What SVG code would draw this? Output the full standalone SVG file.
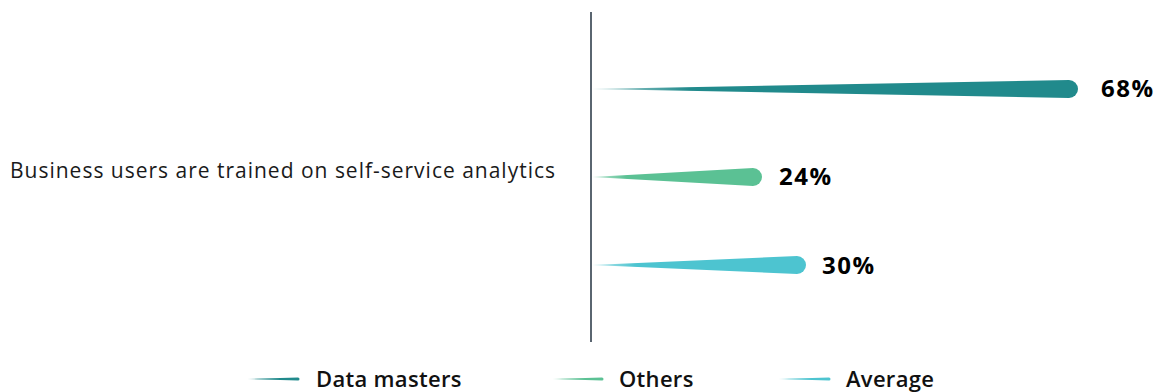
<svg xmlns="http://www.w3.org/2000/svg" width="1162" height="392" viewBox="0 0 1162 392">
<style>
.lbl{font-family:"Open Sans","Noto Sans",sans-serif;font-size:21px;fill:#1a1a1a}
.val{font-family:"Open Sans","Noto Sans",sans-serif;font-size:24px;font-weight:700;letter-spacing:1.5px;fill:#000}
.leg{font-family:"Open Sans","Noto Sans",sans-serif;font-size:22px;font-weight:600;letter-spacing:0.3px;fill:#111}
</style>
<defs>
<linearGradient id="gDm" x1="0" y1="0" x2="1" y2="0"><stop offset="0" stop-color="#218a8c" stop-opacity="0.35"/><stop offset="0.2" stop-color="#218a8c"/><stop offset="1" stop-color="#218a8c"/></linearGradient>
<linearGradient id="gOt" x1="0" y1="0" x2="1" y2="0"><stop offset="0" stop-color="#5bc194" stop-opacity="0.35"/><stop offset="0.2" stop-color="#5bc194"/><stop offset="1" stop-color="#5bc194"/></linearGradient>
<linearGradient id="gAv" x1="0" y1="0" x2="1" y2="0"><stop offset="0" stop-color="#4dc4d0" stop-opacity="0.35"/><stop offset="0.2" stop-color="#4dc4d0"/><stop offset="1" stop-color="#4dc4d0"/></linearGradient>
</defs>
<rect width="1162" height="392" fill="#fff"/>
<g id="category">
<text class="lbl" x="10" y="178" textLength="545" lengthAdjust="spacing">Business users are trained on self-service analytics</text>
</g>
<g id="axis">
<line x1="591" y1="12" x2="591" y2="342" stroke="#5a6570" stroke-width="2"/>
</g>
<g id="bar-data-masters">
<path d="M592,89 L1069,80 A9,9 0 0 1 1069,98 Z" fill="url(#gDm)"/>
<text class="val" x="1101" y="97">68%</text>
</g>
<g id="bar-others">
<path d="M592,177 L753,168 A9,9 0 0 1 753,186 Z" fill="url(#gOt)"/>
<text class="val" x="779" y="185">24%</text>
</g>
<g id="bar-average">
<path d="M592,265 L797,256 A9,9 0 0 1 797,274 Z" fill="url(#gAv)"/>
<text class="val" x="822" y="274">30%</text>
</g>
<g id="legend">
<g id="legend-data-masters">
<path d="M247,379 L298,377.5 A1.5,1.5 0 0 1 298,380.5 Z" fill="url(#gDm)"/>
<text class="leg" x="316" y="387">Data masters</text>
</g>
<g id="legend-others">
<path d="M552,379 L602,377.5 A1.5,1.5 0 0 1 602,380.5 Z" fill="url(#gOt)"/>
<text class="leg" x="619" y="387">Others</text>
</g>
<g id="legend-average">
<path d="M778,379 L829,377.5 A1.5,1.5 0 0 1 829,380.5 Z" fill="url(#gAv)"/>
<text class="leg" x="846" y="387">Average</text>
</g>
</g>
</svg>
